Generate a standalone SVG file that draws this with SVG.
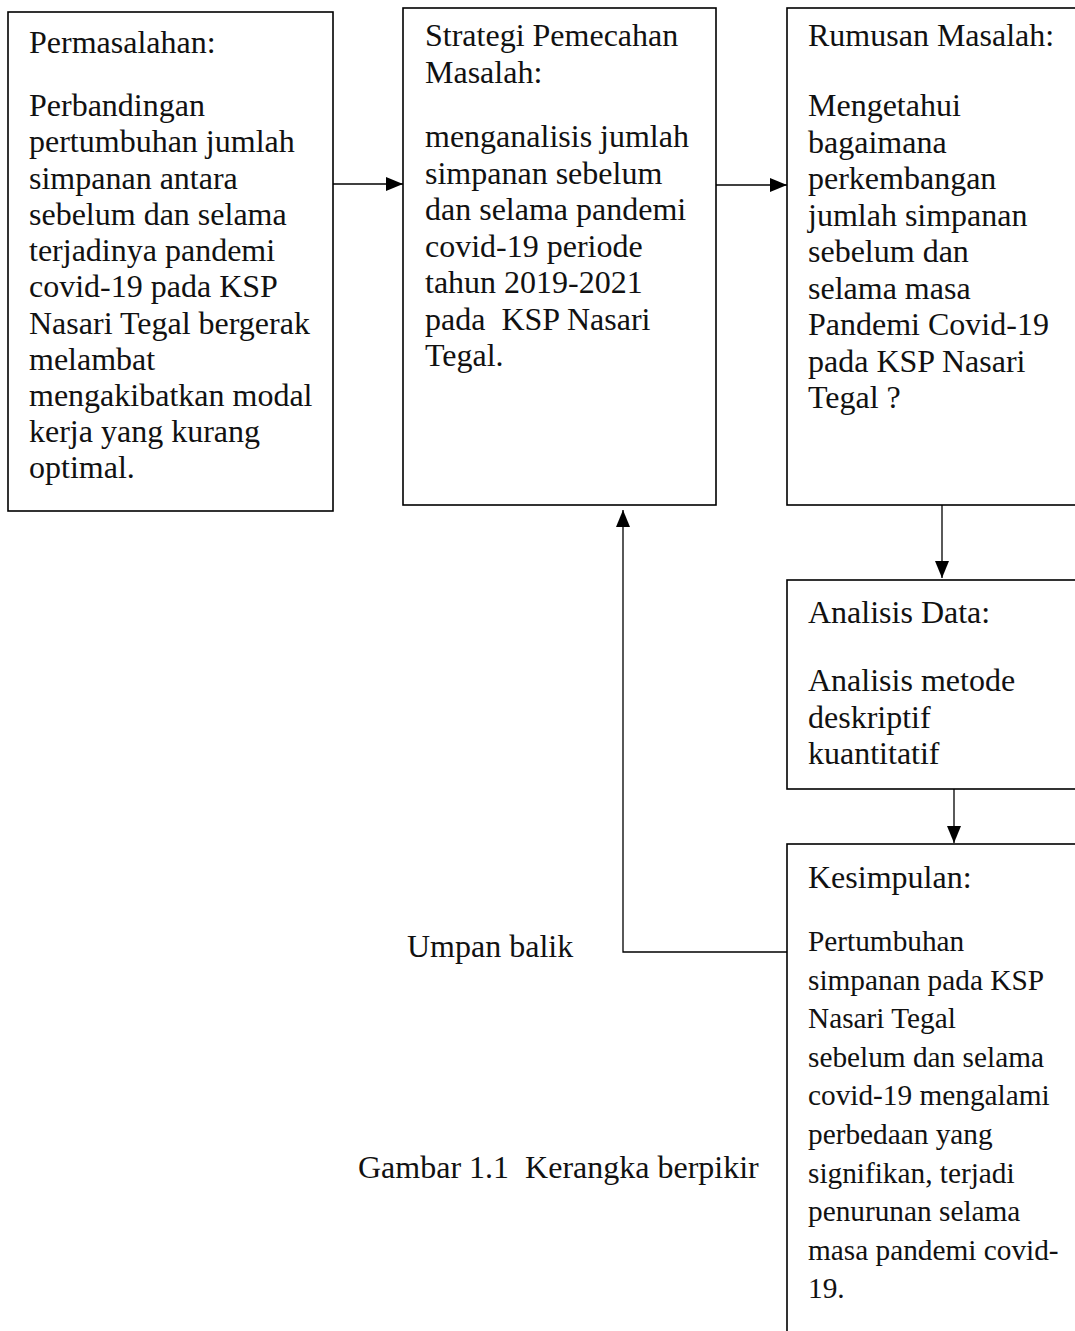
<svg xmlns="http://www.w3.org/2000/svg" width="1075" height="1331" viewBox="0 0 1075 1331">
<style>
.box{fill:#fff;stroke:#000;stroke-width:1.6}
.t{font-family:"Liberation Serif","Times New Roman",serif;font-size:32px;fill:#111}
.s{font-family:"Liberation Serif","Times New Roman",serif;font-size:29.3px;fill:#111}
.c{fill:none;stroke:#000;stroke-width:1.3}
</style>
<defs>
<marker id="ah" markerUnits="userSpaceOnUse" markerWidth="18" markerHeight="14" viewBox="0 0 18 14" refX="17" refY="7" orient="auto">
<path d="M0,0 L17,7 L0,14 Z" fill="#000"/>
</marker>
</defs>
<rect width="1075" height="1331" fill="#fff"/>
<g id="permasalahan">
<rect class="box" x="8" y="12" width="325" height="499"/>
<text class="t" x="29" y="53">Permasalahan:</text>
<text class="t" x="29" y="116">Perbandingan</text>
<text class="t" x="29" y="152">pertumbuhan jumlah</text>
<text class="t" x="29" y="188.5">simpanan antara</text>
<text class="t" x="29" y="225">sebelum dan selama</text>
<text class="t" x="29" y="261">terjadinya pandemi</text>
<text class="t" x="29" y="297">covid-19 pada KSP</text>
<text class="t" x="29" y="333.5">Nasari Tegal bergerak</text>
<text class="t" x="29" y="370">melambat</text>
<text class="t" x="29" y="406">mengakibatkan modal</text>
<text class="t" x="29" y="442">kerja yang kurang</text>
<text class="t" x="29" y="478">optimal.</text>
</g>
<g id="strategi">
<rect class="box" x="403" y="8" width="313" height="497"/>
<text class="t" x="425" y="46">Strategi Pemecahan</text>
<text class="t" x="425" y="83">Masalah:</text>
<text class="t" x="425" y="147">menganalisis jumlah</text>
<text class="t" x="425" y="183.5">simpanan sebelum</text>
<text class="t" x="425" y="220">dan selama pandemi</text>
<text class="t" x="425" y="256.5">covid-19 periode</text>
<text class="t" x="425" y="293">tahun 2019-2021</text>
<text class="t" x="425" y="329.5" xml:space="preserve">pada  KSP Nasari</text>
<text class="t" x="425" y="366">Tegal.</text>
</g>
<g id="rumusan">
<rect class="box" x="787" y="8" width="300" height="497"/>
<text class="t" x="808" y="46">Rumusan Masalah:</text>
<text class="t" x="808" y="116">Mengetahui</text>
<text class="t" x="808" y="152.5">bagaimana</text>
<text class="t" x="808" y="189">perkembangan</text>
<text class="t" x="808" y="225.5">jumlah simpanan</text>
<text class="t" x="808" y="262">sebelum dan</text>
<text class="t" x="808" y="298.5">selama masa</text>
<text class="t" x="808" y="335">Pandemi Covid-19</text>
<text class="t" x="808" y="371.5">pada KSP Nasari</text>
<text class="t" x="808" y="408">Tegal ?</text>
</g>
<g id="analisis">
<rect class="box" x="787" y="580" width="300" height="209"/>
<text class="t" x="808" y="623">Analisis Data:</text>
<text class="t" x="808" y="691">Analisis metode</text>
<text class="t" x="808" y="727.5">deskriptif</text>
<text class="t" x="808" y="764">kuantitatif</text>
</g>
<g id="kesimpulan">
<rect class="box" x="787" y="844" width="300" height="500"/>
<text class="t" x="808" y="888">Kesimpulan:</text>
<text class="s" x="808" y="951">Pertumbuhan</text>
<text class="s" x="808" y="990">simpanan pada KSP</text>
<text class="s" x="808" y="1028">Nasari Tegal</text>
<text class="s" x="808" y="1067">sebelum dan selama</text>
<text class="s" x="808" y="1105">covid-19 mengalami</text>
<text class="s" x="808" y="1144">perbedaan yang</text>
<text class="s" x="808" y="1183">signifikan, terjadi</text>
<text class="s" x="808" y="1221">penurunan selama</text>
<text class="s" x="808" y="1260">masa pandemi covid-</text>
<text class="s" x="808" y="1298">19.</text>
</g>
<g id="labels">
<text class="t" x="407" y="957">Umpan balik</text>
<text class="t" x="358" y="1178" xml:space="preserve">Gambar 1.1  Kerangka berpikir</text>
</g>
<g id="connectors">
<line class="c" x1="333" y1="184" x2="403" y2="184" marker-end="url(#ah)"/>
<line class="c" x1="716" y1="185" x2="787" y2="185" marker-end="url(#ah)"/>
<line class="c" x1="942" y1="505" x2="942" y2="578" marker-end="url(#ah)"/>
<line class="c" x1="954" y1="789" x2="954" y2="843" marker-end="url(#ah)"/>
<polyline class="c" points="787,952 623,952 623,510" marker-end="url(#ah)"/>
</g>
</svg>
